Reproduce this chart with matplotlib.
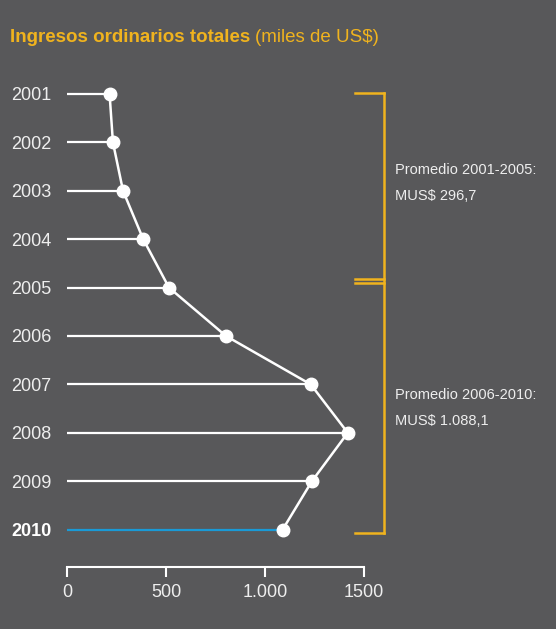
import matplotlib
matplotlib.use("Agg")
import matplotlib.pyplot as plt

# datos (miles de US$)
years = [2001, 2002, 2003, 2004, 2005, 2006, 2007, 2008, 2009, 2010]
ingresos = [215, 232, 283, 385, 515, 803, 1231, 1418, 1237, 1089]
xticks = [0, 500, 1000, 1500]
xtick_labels = ["0", "500", "1.000", "1500"]
title_main = "Ingresos ordinarios totales"
title_sub = "(miles de US$)"
prom_labels = ["Promedio 2001-2005:", "Promedio 2006-2010:"]
prom_values = ["MUS$ 296,7", "MUS$ 1.088,1"]

BG = "#58585a"
YEL = "#f0b31e"
TXT = "#eeeeee"
BLUE = "#1a9ad6"
FONT = ["Liberation Sans", "DejaVu Sans"]
plt.rcParams["font.family"] = FONT

W, H = 556, 629
fig = plt.figure(figsize=(W / 100, H / 100), dpi=100, facecolor=BG)

def fx(px):
    return px / W

def fy(py):
    return 1 - py / H

# axes: x=0 at px 67, x=1500 at px 364; bottom spine at px 567
ax = fig.add_axes([fx(67), fy(567), fx(364 - 67), (567 - 60) / H])
ax.set_facecolor(BG)
ax.set_xlim(0, 1500)
y0, dy = 94, 48.4
ax.set_ylim(2001 + (567 - y0) / dy, 2001 - (y0 - 60) / dy)

colors = ["white"] * (len(years) - 1) + [BLUE]
ax.hlines(years, 0, ingresos, colors=colors, lw=1.6, zorder=2)
ax.plot(ingresos, years, "-o", color="white", lw=1.8, ms=9,
        mfc="white", mec="white", zorder=3)

for s in ["top", "right", "left"]:
    ax.spines[s].set_visible(False)
ax.spines["bottom"].set_color("white")
ax.spines["bottom"].set_linewidth(1.5)
ax.spines["bottom"].set_bounds(0, 1500)

ax.set_xticks(xticks)
ax.set_xticklabels(xtick_labels)
ax.tick_params(axis="x", colors="white", length=7, width=1.5, pad=5,
               labelsize=13, labelcolor=TXT)
ax.set_yticks(years)
ax.set_yticklabels([str(y) for y in years])
ax.tick_params(axis="y", length=0, pad=11, labelsize=13, labelcolor=TXT)
for lab in ax.get_yticklabels():
    if lab.get_text() == "2010":
        lab.set_fontweight("bold")
        lab.set_color("white")

# llaves de promedio
bx0, bx1 = 1455, 1600
def yr(py):
    return 2001 + (py - y0) / dy
kw = dict(color=YEL, lw=1.8, clip_on=False, zorder=1)
ax.plot([bx1, bx1], [yr(93), yr(533)], **kw)
for py in [93, 279, 283, 533]:
    ax.plot([bx0, bx1], [yr(py), yr(py)], **kw)

# textos
t = fig.text(fx(10), fy(38), title_main, color=YEL, fontsize=13.5,
             fontweight="bold", va="center", ha="left")
fig.canvas.draw()
bb = t.get_window_extent()
fig.text(bb.x1 / W + 0.008, fy(38), title_sub, color=YEL, fontsize=13.5,
         va="center", ha="left")

for lbl, val, py in zip(prom_labels, prom_values, [170, 395]):
    fig.text(fx(395), fy(py), lbl, color=TXT, fontsize=10.5, va="center")
    fig.text(fx(395), fy(py + 26), val, color=TXT, fontsize=10.5, va="center")

fig.savefig("out.png", dpi=100, facecolor=BG)
